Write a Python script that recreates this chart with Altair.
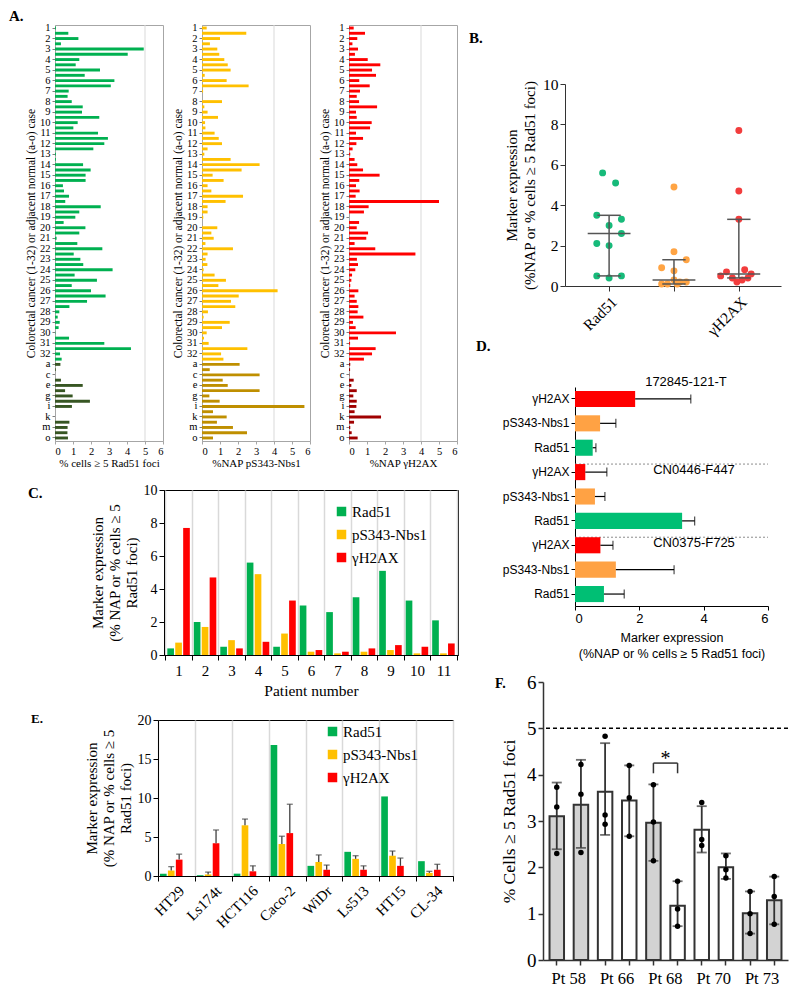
import altair as alt
import pandas as pd

SERIF = "Liberation Serif"
SANS = "Liberation Sans"
NB = "\u00a0"

GREEN, YELLOW, RED = "#00B050", "#FFC000", "#FF0000"
GREEN_N, YELLOW_N, RED_N = "#375623", "#BF8F00", "#A00000"
markers = ["Rad51", "pS343-Nbs1", "γH2AX"]

# ---------------- Panel A data ----------------
cases = [str(i) for i in range(1, 33)]
normal_cases = list("abcdefghijklmno")
rad51_cancer = [0.05, 0.74, 1.3, 0.33, 4.93, 4.04, 1.35, 1.15, 2.5, 1.65,
                3.3, 3.1, 0.76, 0.7, 0.93, 1.54, 1.5, 2.46, 1.26, 1.02,
                2.39, 2.94, 2.74, 2.13, 0.05, 0.05, 1.56, 1.98, 1.7, 1.7,
                0.44, 0.5, 0.78, 0.57, 2.54, 1.35, 1.13, 0.48, 1.69, 1.35,
                0.09, 1.24, 2.63, 1.04, 1.41, 1.57, 3.2, 1.09, 2.33, 0.93,
                2.0, 2.81, 1.78, 0.8, 0.24, 0.15, 0.26, 0.2, 0.02, 0.78,
                2.74, 4.22, 0.28, 0.37]
rad51_normal = [0.3, 0.04, 0, 0.33, 1.54, 0.56, 0.98, 1.94, 0.94, 0, 0, 0.8, 0.7, 0.69, 0.72]
nbs1_cancer = [0.26, 2.46, 1.0, 0.44, 0.85, 0.96, 1.24, 1.43, 1.59, 0.15,
               1.37, 2.59, 0.06, 0, 1.11, 0.13, 0.31, 0.89, 0.17, 0.19,
               0.7, 0.93, 1.11, 0.31, 0.13, 1.59, 3.2, 2.2, 0.59, 1.2,
               0.31, 0.52, 2.28, 1.31, 0.31, 0.31, 0.07, 0, 0.85, 0.52,
               0.65, 0.19, 1.72, 0.31, 0.2, 0.3, 0.09, 0.7, 1.33, 0.91,
               4.2, 2.04, 1.61, 1.85, 0.33, 0.09, 1.54, 1.11, 0.26, 0.11,
               0.37, 2.52, 1.06, 1.19]
nbs1_normal = [2.09, 0.43, 3.2, 1.15, 1.43, 3.2, 0.41, 0.98, 5.69, 0.61, 1.37, 0.83, 1.72, 2.5, 0.61]
h2ax_cancer = [0.26, 0.89, 0.46, 0.19, 0.5, 0.33, 1.04, 1.74, 1.28, 1.5,
               0.57, 1.15, 0.61, 0.43, 0.56, 1.56, 0.39, 0.43, 1.26, 1.17,
               0.39, 0.78, 0.41, 0.2, 0.07, 0.31, 0.46, 0.78, 1.7, 0.57,
               0.39, 0.59, 0.37, 5.0, 1.09, 0.83, 0, 0.56, 0.43, 1.06,
               0.96, 0.31, 1.46, 3.69, 0.44, 0.5, 0.35, 0.17, 0.13, 0.07,
               0.52, 0.31, 0.43, 0.52, 0.48, 0.8, 0.22, 0.37, 2.61, 0.5,
               0.06, 1.48, 1.28, 0.83]
h2ax_normal = [0.07, 0.06, 0.02, 0.26, 0.13, 0.43, 0.24, 0.43, 0.41, 0.31, 1.78, 0.28, 0.07, 0.15, 0.48]
A_titles = ["% cells ≥ 5 Rad51 foci", "%NAP pS343-Nbs1", "%NAP γH2AX"]
A_grid = [5, 4, 4]

# ---------------- Panel B / C data (11 patients) ----------------
patients = [str(i) for i in range(1, 12)]
C_rad51 = [0.4, 2.0, 0.5, 5.6, 0.5, 3.0, 2.6, 3.5, 5.1, 3.3, 2.1]
C_nbs1 = [0.75, 1.7, 0.9, 4.9, 1.3, 0.2, 0.1, 0.2, 0.3, 0.1, 0.1]
C_h2ax = [7.7, 4.7, 0.4, 0.8, 3.3, 0.3, 0.2, 0.4, 0.6, 0.5, 0.7]
B_jitter_rad51 = [0, 0, -0.19, -0.1, 0.19, 0, 0.19, -0.19, 0.1, 0.19, -0.19]
B_jitter_nbs1 = [0, 0, -0.19, 0, 0.19, 0.09, -0.19, 0.19, 0, -0.1, 0.05]
B_jitter_h2ax = [0, 0, -0.1, 0.09, 0, 0.05, -0.03, 0.14, 0.19, -0.28, -0.19]
B_median = [2.6, 0.3, 0.6]
B_q1 = [0.5, 0.1, 0.4]
B_q3 = [3.5, 1.3, 3.3]

# ---------------- Panel D data ----------------
D_groups = ["172845-121-T", "CN0446-F447", "CN0375-F725"]
D_rows = ["γH2AX", "pS343-Nbs1", "Rad51"]
D_mean = {"γH2AX": [1.87, 0.32, 0.79], "pS343-Nbs1": [0.78, 0.62, 1.27], "Rad51": [0.55, 3.33, 0.9]}
D_hi = {"γH2AX": [3.6, 0.99, 1.18], "pS343-Nbs1": [1.27, 0.93, 3.08], "Rad51": [0.65, 3.72, 1.53]}

# ---------------- Panel E data ----------------
cell_lines = ["HT29", "Ls174t", "HCT116", "Caco-2", "WiDr", "Ls513", "HT15", "CL-34"]
E_rad51 = [0.3, 0.1, 0.3, 16.8, 1.3, 3.1, 10.2, 1.9]
E_nbs1 = [0.7, 0.2, 6.5, 4.1, 1.8, 2.2, 2.6, 0.4]
E_nbs1_hi = [1.2, 0.5, 7.3, 5.1, 2.7, 2.6, 3.2, 0.6]
E_h2ax = [2.1, 4.2, 0.6, 5.5, 0.8, 0.8, 1.3, 0.8]
E_h2ax_hi = [2.8, 5.9, 1.3, 9.2, 1.4, 1.3, 2.3, 1.5]

# ---------------- Panel F data ----------------
F_patients = ["58", "58", "66", "66", "68", "68", "70", "70", "73", "73"]
F_keys = [p + s for p, s in zip(F_patients, "ababababab")]
F_condition = ["shaded", "shaded", "open", "open", "shaded", "open", "open", "open", "shaded", "shaded"]
F_mean = [3.1, 3.35, 3.63, 3.44, 2.96, 1.17, 2.81, 2.0, 1.01, 1.29]
F_lo = [2.39, 2.42, 2.7, 2.67, 2.14, 0.73, 2.32, 1.75, 0.57, 0.77]
F_hi = [3.83, 4.32, 4.68, 4.2, 3.79, 1.7, 3.32, 2.3, 1.48, 1.8]
F_points = [[3.73, 3.3, 2.3], [4.22, 3.58, 2.32], [4.83, 3.13, 2.93], [4.2, 3.5, 2.67],
            [3.78, 2.98, 2.14], [1.7, 1.1, 0.73], [3.4, 2.6, 2.47], [2.25, 1.95, 1.77],
            [1.48, 1.0, 0.57], [1.8, 1.37, 0.77]]
F_threshold = [5]
F_sig = {"from": "68a", "to": "68b", "top": 4.25, "low": 4.03, "star": 4.33}

NOVIEW = alt.ViewBackground(strokeWidth=0)


def letter_layer(t, px, py, size=15):
    return alt.Chart(pd.DataFrame({"t": [t]})).mark_text(
        align="left", baseline="alphabetic", font=SERIF, fontSize=size, fontWeight="bold",
        color="black").encode(text="t:N", x=alt.value(px), y=alt.value(py))


def spacer(w, h, t="", px=0, py=0, size=15):
    return letter_layer(t, px, py, size).properties(width=w, height=h, view=NOVIEW)


def H(*charts, spacing):
    return alt.hconcat(*charts, spacing=spacing).resolve_scale(
        color="independent", fill="independent").resolve_legend(color="independent")


def V(*charts, spacing):
    return alt.vconcat(*charts, spacing=spacing).resolve_scale(
        color="independent", fill="independent").resolve_legend(color="independent")


# ================= Panel A =================
cancer_keys = [f"{c}-{r}" for c in cases for r in ("1", "2")]
row_keys = cancer_keys + normal_cases
a_axis_values = [f"{c}-1" for c in cases] + normal_cases[::2]


def panel_a(cancer, normal, c_col, n_col, xtitle, grid_at, extra=None):
    df = pd.DataFrame({"row": row_keys, "value": cancer + normal,
                       "kind": ["cancer"] * len(cancer) + ["normal"] * len(normal)})
    xs = alt.Scale(domain=[0, 6], nice=False)
    xax = alt.Axis(values=list(range(7)), title=xtitle, grid=False, labelAngle=0,
                   labelFont=SERIF, labelFontSize=10.5, titleFont=SERIF, titleFontSize=11,
                   titleFontWeight="normal", titlePadding=1, labelPadding=2, tickSize=3,
                   domainColor="#A6A6A6", tickColor="#A6A6A6")
    yax = alt.Axis(values=a_axis_values, labelExpr="split(datum.label, '-')[0]",
                   title="Colorectal cancer (1-32) or adjacent normal (a-o) case",
                   labelFont=SERIF, labelFontSize=10.5, titleFont=SERIF, titleFontSize=11.5,
                   titleFontWeight="normal", titlePadding=3, labelPadding=2, tickSize=3,
                   domainColor="#A6A6A6", tickColor="#7F7F7F")
    bars = alt.Chart(df).mark_bar().encode(
        x=alt.X("value:Q", scale=xs, axis=xax, title=xtitle),
        y=alt.Y("row:N", sort=row_keys, scale=alt.Scale(paddingInner=0.45, paddingOuter=0.3), axis=yax),
        color=alt.Color("kind:N", scale=alt.Scale(domain=["cancer", "normal"], range=[c_col, n_col]), legend=None),
    )
    gl = alt.Chart(pd.DataFrame({"g": [grid_at]})).mark_rule(color="#D9D9D9", strokeWidth=1).encode(
        x=alt.X("g:Q", scale=xs, axis=xax, title=xtitle))
    layers = [gl, bars] + ([extra] if extra is not None else [])
    return alt.layer(*layers).properties(
        width=108, height=416, view=alt.ViewBackground(stroke="#A6A6A6", strokeWidth=1))


A_row = H(
    panel_a(rad51_cancer, rad51_normal, GREEN, GREEN_N, A_titles[0], A_grid[0],
            extra=letter_layer("A.", -46, -4)),
    panel_a(nbs1_cancer, nbs1_normal, YELLOW, YELLOW_N, A_titles[1], A_grid[1]),
    panel_a(h2ax_cancer, h2ax_normal, RED, RED_N, A_titles[2], A_grid[2]),
    spacing=8,
)

# ================= Panel C =================
dfC = pd.DataFrame({"patient": patients * 3,
                    "marker": [m for m in markers for _ in patients],
                    "value": C_rad51 + C_nbs1 + C_h2ax})
yt3 = ["Marker expression", "(% NAP or % cells ≥ 5", "Rad51 foci)"]


def color3(legend):
    return alt.Color("marker:N", sort=markers,
                     scale=alt.Scale(domain=markers, range=[GREEN, YELLOW, RED]), legend=legend)


def legend3(x, y):
    return alt.Legend(title=None, orient="none", legendX=x, legendY=y, symbolType="square",
                      symbolSize=90, symbolStrokeWidth=0, labelFont=SERIF, labelFontSize=15,
                      labelColor="black", rowPadding=7, padding=0, labelOffset=3)


C = alt.Chart(dfC).mark_bar().encode(
    x=alt.X("patient:N", sort=patients, scale=alt.Scale(paddingInner=0, paddingOuter=0.05),
            axis=alt.Axis(title="Patient number", labelAngle=0, tickBand="extent", grid=True,
                          gridColor="#D9D9D9", gridWidth=1.5, labelFont=SERIF, labelFontSize=15,
                          titleFont=SERIF, titleFontSize=15.5, titleFontWeight="normal",
                          tickSize=5, labelPadding=3, titlePadding=5)),
    xOffset=alt.XOffset("marker:N", sort=markers,
                        scale=alt.Scale(domain=markers, paddingInner=0.16, paddingOuter=0.25)),
    y=alt.Y("value:Q", scale=alt.Scale(domain=[0, 10], nice=False),
            axis=alt.Axis(values=[0, 2, 4, 6, 8, 10], grid=False, title=yt3, labelFont=SERIF,
                          labelFontSize=14, titleFont=SERIF, titleFontSize=15, titleLineHeight=17,
                          titleFontWeight="normal", tickSize=5, titlePadding=4)),
    color=color3(legend3(170, 14)),
).properties(width=294, height=165, view=alt.ViewBackground(stroke="black", strokeWidth=1))

# ================= Panel E =================
dfE = pd.DataFrame({"line": cell_lines * 3,
                    "marker": [m for m in markers for _ in cell_lines],
                    "value": E_rad51 + E_nbs1 + E_h2ax})
dfEerr = pd.DataFrame({"line": cell_lines * 2,
                       "marker": [m for m in markers[1:] for _ in cell_lines],
                       "value": E_nbs1 + E_h2ax, "hi": E_nbs1_hi + E_h2ax_hi})
axE = alt.Axis(title=None, labelAngle=-45, tickBand="extent", grid=True, gridColor="#D9D9D9",
               gridWidth=1.5, labelFont=SERIF, labelFontSize=15, tickSize=5, labelPadding=2)
xE = alt.X("line:N", sort=cell_lines, scale=alt.Scale(paddingInner=0, paddingOuter=0), axis=axE)
xoE = alt.XOffset("marker:N", sort=markers,
                  scale=alt.Scale(domain=markers, paddingInner=0.03, paddingOuter=0.75))
yE_scale = alt.Scale(domain=[0, 20], nice=False)
yE_axis = alt.Axis(values=[0, 5, 10, 15, 20], grid=False, title=yt3, labelFont=SERIF,
                   labelFontSize=14, titleFont=SERIF, titleFontSize=15, titleLineHeight=17,
                   titleFontWeight="normal", tickSize=5, titlePadding=4)
E_bars = alt.Chart(dfE).mark_bar().encode(
    x=xE, xOffset=xoE,
    y=alt.Y("value:Q", scale=yE_scale, axis=yE_axis, title=yt3),
    color=color3(legend3(167, 4)),
)
E_err = alt.Chart(dfEerr).mark_rule(color="#404040", strokeWidth=1.3).encode(
    x=xE, xOffset=xoE,
    y=alt.Y("value:Q", scale=yE_scale, axis=yE_axis, title=yt3), y2="hi:Q")
E_cap = alt.Chart(dfEerr).mark_tick(color="#404040", size=6, thickness=1.3).encode(
    x=xE, xOffset=xoE,
    y=alt.Y("hi:Q", scale=yE_scale, axis=yE_axis, title=yt3))
E = alt.layer(E_bars, E_err, E_cap).properties(
    width=295, height=156, view=alt.ViewBackground(stroke="black", strokeWidth=1))

# ================= Panel B =================
B_rows = []
for gi, (vals, jit) in enumerate([(C_rad51, B_jitter_rad51), (C_nbs1, B_jitter_nbs1), (C_h2ax, B_jitter_h2ax)]):
    for v, j in zip(vals, jit):
        B_rows.append({"marker": markers[gi], "x": gi + 1 + j, "value": v})
dfB = pd.DataFrame(B_rows)
dfBs = pd.DataFrame({"pos": [1, 2, 3], "med": B_median, "q1": B_q1, "q3": B_q3})
sBx = alt.Scale(domain=[0.32, 3.65], nice=False, zero=False)
sBy = alt.Scale(domain=[0, 10], nice=False)
axBx = alt.Axis(values=[1, 2, 3], grid=False, labelAngle=-45, title=None,
                labelExpr="datum.value == 1 ? 'Rad51' : datum.value == 2 ? 'pS343-Nbs1' : 'γH2AX'",
                labelFont=SERIF, labelFontSize=15.5, tickSize=5, labelPadding=3,
                domainColor="#333333", tickColor="#333333")
BT = ["Marker expression", "(%NAP or % cells ≥ 5 Rad51 foci)"]
axBy = alt.Axis(values=[0, 2, 4, 6, 8, 10], grid=False, labelFont=SERIF, labelFontSize=15.5,
                title=BT, titleFont=SERIF, titleFontSize=15, titleFontWeight="normal", titleLineHeight=18,
                tickSize=5, domainColor="#333333", tickColor="#333333", titlePadding=5)


def bx(f):
    return alt.X(f, type="quantitative", scale=sBx, axis=axBx)


def by(f):
    return alt.Y(f, type="quantitative", scale=sBy, axis=axBy, title=BT)


Bbase = alt.Chart(dfBs).transform_calculate(
    ml="datum.pos - 0.33", mr="datum.pos + 0.33", cl="datum.pos - 0.18", cr="datum.pos + 0.18")
B_v = Bbase.mark_rule(color="#555555", strokeWidth=1.5).encode(x=bx("pos"), y=by("q1"), y2="q3:Q")
B_med = Bbase.mark_rule(color="#555555", strokeWidth=1.5).encode(x=bx("ml"), x2="mr:Q", y=by("med"))
B_c1 = Bbase.mark_rule(color="#555555", strokeWidth=1.5).encode(x=bx("cl"), x2="cr:Q", y=by("q3"))
B_c2 = Bbase.mark_rule(color="#555555", strokeWidth=1.5).encode(x=bx("cl"), x2="cr:Q", y=by("q1"))
B_pts = alt.Chart(dfB).mark_circle(size=48, opacity=1).encode(
    x=bx("x"), y=by("value"),
    color=alt.Color("marker:N", sort=markers,
                    scale=alt.Scale(domain=markers, range=["#17BA7A", "#FFA444", "#F23D3D"]), legend=None))
B = alt.layer(B_pts, B_v, B_med, B_c1, B_c2).properties(width=216, height=202, view=NOVIEW)

# ================= Panel D =================
D_keys = [f"{m}|{g + 1}" for g in range(3) for m in D_rows]
dfD = pd.DataFrame({"key": D_keys,
                    "marker": [m for g in range(3) for m in D_rows],
                    "mean": [D_mean[m][g] for g in range(3) for m in D_rows],
                    "hi": [D_hi[m][g] for g in range(3) for m in D_rows]})
sDx = alt.Scale(domain=[0, 6], nice=False)
DT = ["Marker expression", "(%NAP or % cells ≥ 5 Rad51 foci)"]
axDx = alt.Axis(values=[0, 2, 4, 6], grid=False, labelFont=SANS, labelFontSize=13,
                title=DT, titleFont=SANS,
                titleFontSize=12.5, titleFontWeight="normal", titleLineHeight=16, titlePadding=6,
                tickSize=4, labelPadding=2)
axDy = alt.Axis(labelExpr="split(datum.label, '|')[0]", labelFont=SANS, labelFontSize=12,
                tickSize=4, labelPadding=2, title=None)


def dy_(bp=None):
    kw = {} if bp is None else {"bandPosition": bp}
    return alt.Y("key:N", sort=D_keys, scale=alt.Scale(paddingInner=0.34, paddingOuter=0.16),
                 axis=axDy, **kw)


D_bars = alt.Chart(dfD).mark_bar().encode(
    x=alt.X("mean:Q", scale=sDx, axis=axDx, title=DT), y=dy_(),
    color=alt.Color("marker:N", scale=alt.Scale(domain=["Rad51", "pS343-Nbs1", "γH2AX"],
                                                range=["#00BF74", "#FFA244", "#FF0000"]), legend=None))
D_err = alt.Chart(dfD).mark_rule(color="black", strokeWidth=1.2).encode(
    x=alt.X("mean:Q", scale=sDx, axis=axDx, title=DT), x2="hi:Q", y=dy_())
D_cap = alt.Chart(dfD).mark_tick(color="black", size=9, thickness=1.2).encode(
    x=alt.X("hi:Q", scale=sDx, axis=axDx, title=DT), y=dy_())
D_sep = alt.Chart(pd.DataFrame({"key": [D_keys[3], D_keys[6]]})).mark_rule(
    color="#8C8C8C", strokeDash=[2, 2], strokeWidth=1).encode(
    y=dy_(0), x=alt.value(0), x2=alt.value(193))
dfDl = pd.DataFrame({"key": [D_keys[0], D_keys[3], D_keys[6]], "name": D_groups})
D_lab1 = alt.Chart(dfDl.iloc[:1]).mark_text(font=SANS, fontSize=13, dy=-17, color="black").encode(
    y=dy_(), x=alt.datum(3.45), text="name:N")
D_lab2 = alt.Chart(dfDl.iloc[1:]).mark_text(font=SANS, fontSize=13, dy=-2, color="black").encode(
    y=dy_(), x=alt.datum(3.7), text="name:N")
D = alt.layer(D_sep, D_bars, D_err, D_cap, D_lab1, D_lab2).properties(width=193, height=219, view=NOVIEW)

# ================= Panel F =================
dfF = pd.DataFrame({"bar": F_keys, "mean": F_mean, "lo": F_lo, "hi": F_hi, "cond": F_condition})
dfFp = pd.DataFrame({"bar": [k for k, pts in zip(F_keys, F_points) for _ in pts],
                     "value": [v for pts in F_points for v in pts]})
sFy = alt.Scale(domain=[0, 6], nice=False)
FT = "% Cells ≥ 5 Rad51 foci"
axFy = alt.Axis(values=[0, 1, 2, 3, 4, 5, 6], grid=False, labelFont=SERIF, labelFontSize=19,
                title=FT, titleFont=SERIF, titleFontSize=17.5, titleFontWeight="normal",
                tickSize=5, domainColor="#333333", tickColor="#333333", domainWidth=1.5,
                tickWidth=1.5, titlePadding=8)
axFx = alt.Axis(labelExpr="indexof(datum.label, 'a') > 0 ? 'Pt ' + substring(datum.label, 0, 2) : ''",
                labelOffset=12, labelAngle=0, labelFont=SERIF, labelFontSize=16.5, title=None,
                domainColor="#333333", tickColor="#333333", domainWidth=1.5, tickWidth=1.5,
                tickSize=5, labelPadding=5)
sFx = alt.Scale(paddingInner=0.4, paddingOuter=0.27)


def fx(field="bar"):
    return alt.X(f"{field}:N", sort=F_keys, scale=sFx, axis=axFx)


def fy(f):
    return alt.Y(f, type="quantitative", scale=sFy, axis=axFy, title=FT)


F_bars = alt.Chart(dfF).mark_bar(stroke="#333333", strokeWidth=2).encode(
    x=fx(), y=fy("mean"),
    fill=alt.Fill("cond:N", scale=alt.Scale(domain=["shaded", "open"], range=["#D3D3D3", "#FFFFFF"]),
                  legend=None))
F_err = alt.Chart(dfF).mark_rule(color="#333333", strokeWidth=1.8).encode(x=fx(), y=fy("lo"), y2="hi:Q")
F_caphi = alt.Chart(dfF).mark_tick(color="#333333", size=10, thickness=1.8).encode(x=fx(), y=fy("hi"))
F_caplo = alt.Chart(dfF).mark_tick(color="#333333", size=10, thickness=1.8).encode(x=fx(), y=fy("lo"))
F_pts = alt.Chart(dfFp).mark_circle(size=30, color="black", opacity=1).encode(x=fx(), y=fy("value"))
F_thr = alt.Chart(pd.DataFrame({"thr": F_threshold})).mark_rule(
    color="black", strokeDash=[4, 3], strokeWidth=1.5).encode(y=fy("thr"))
dfSig = pd.DataFrame([F_sig])
F_br = alt.Chart(dfSig).mark_rule(color="#333333", strokeWidth=1.5).encode(
    x=fx("from"), x2="to:N", y=fy("top"))
dfLegs = pd.DataFrame({"bar": [F_sig["from"], F_sig["to"]], "top": [F_sig["top"]] * 2, "low": [F_sig["low"]] * 2})
F_legs = alt.Chart(dfLegs).mark_rule(color="#333333", strokeWidth=1.5).encode(x=fx(), y=fy("low"), y2="top:Q")
F_star = alt.Chart(dfSig).mark_text(text="*", fontSize=20, dx=12, font=SERIF, color="black").encode(
    x=fx("from"), y=fy("star"))
F = alt.layer(F_thr, F_bars, F_err, F_caphi, F_caplo, F_pts, F_br, F_legs, F_star,
              letter_layer("F.", -48, 6, 14)).properties(width=245, height=278, view=NOVIEW)

# ================= Layout =================
left = V(
    A_row,
    H(spacer(34, 10, "C.", -27, 8), C, spacing=0),
    H(spacer(28, 10, "E.", -24, 3, 13), E, spacing=0),
    spacing=13,
)
right = V(
    spacer(10, 42, "B.", 0, 18),
    H(spacer(35, 10, "D.", 7, 267), B, spacing=0),
    H(spacer(33, 10, NB, 0, -11), D, spacing=0),
    H(spacer(26, 10), F, spacing=0),
    spacing=10,
)
chart = H(left, right, spacing=10).properties(padding=0).configure(font=SERIF).configure_axis(
    labelColor="black", titleColor="black", domainColor="black", tickColor="black"
).configure_view(strokeWidth=0)

chart.save("out.html", embed_options={"renderer": "svg", "actions": False})
